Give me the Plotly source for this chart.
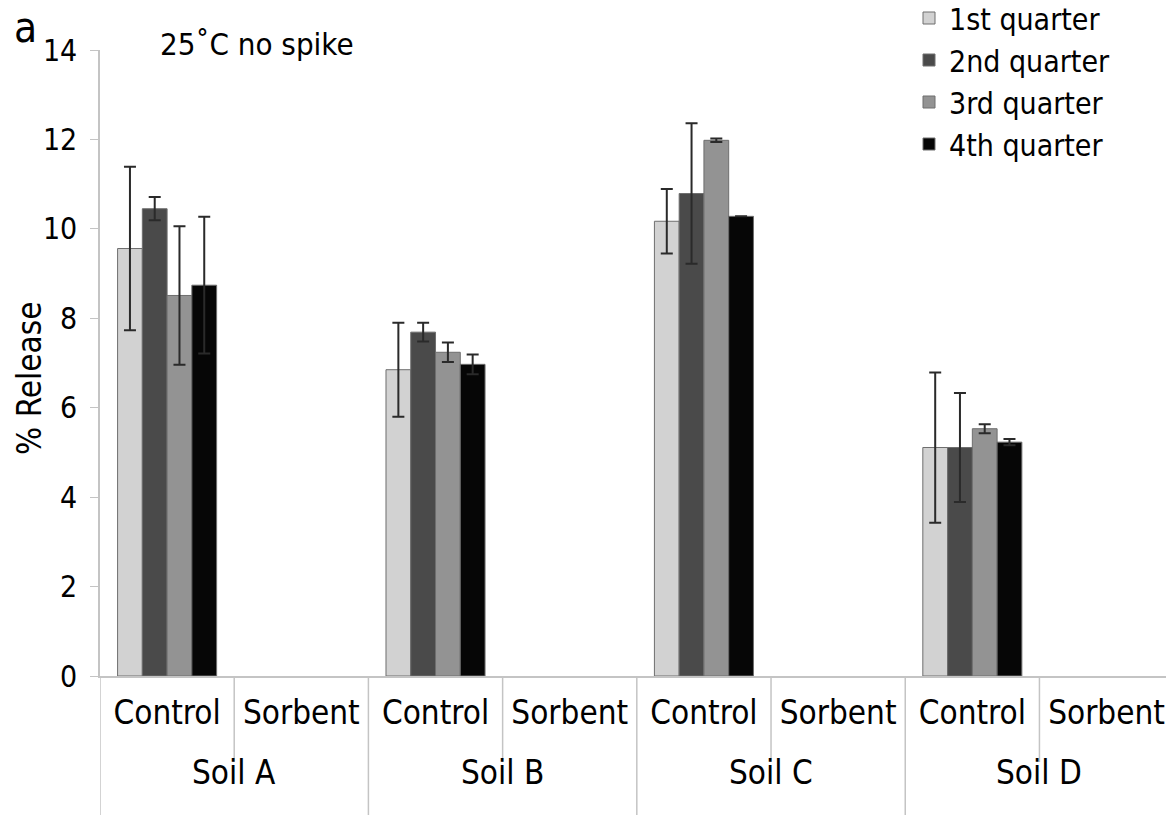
import plotly.graph_objects as go

# Soils and treatments along the x axis
soils = ["Soil A", "Soil B", "Soil C", "Soil D"]
treatments = ["Control", "Sorbent"]

# % release per quarter for the control columns (Soil A..D); sorbent columns are empty
q1 = [9.56, 6.85, 10.17, 5.11]
q2 = [10.45, 7.69, 10.79, 5.11]
q3 = [8.51, 7.24, 11.98, 5.53]
q4 = [8.74, 6.97, 10.28, 5.23]

q1_err = [1.83, 1.05, 0.72, 1.68]
q2_err = [0.26, 0.21, 1.57, 1.22]
q3_err = [1.55, 0.22, 0.04, 0.10]
q4_err = [1.53, 0.22, 0.00, 0.07]

series_names = ["1st quarter", "2nd quarter", "3rd quarter", "4th quarter"]
series_colors = ["#d2d2d2", "#4a4a4a", "#939393", "#060606"]

FONT = "DejaVu Sans Condensed, Liberation Sans Narrow, sans-serif"
AXIS_GRAY = "#c4c4c4"

W, H = 1166, 815
ML, MR, MT, MB = 100, 0, 50, 139
PW, PH = W - ML - MR, H - MT - MB

# one category key per (soil, treatment) column
keys = [f"{s} | {t}" for s in soils for t in treatments]
key_text = [t for _ in soils for t in treatments]


def expand(vals):
    out = []
    for v in vals:
        out.extend([v, None])
    return out


def px_to_paper(px, py):
    return (px - ML) / PW, (H - MB - py) / PH


fig = go.Figure()
for name, color, vals, errs in zip(series_names, series_colors,
                                   [q1, q2, q3, q4],
                                   [q1_err, q2_err, q3_err, q4_err]):
    fig.add_trace(go.Bar(
        name=name,
        x=keys,
        y=expand(vals),
        marker=dict(color=color, line=dict(color="#6e6e6e", width=1)),
        error_y=dict(type="data", array=expand(errs), visible=True,
                     color="#2a2a2a", thickness=2, width=6),
    ))

# separators below the axis: short ones between treatments, full-height ones between soils
inner_y = -86 / PH
outer_y = -(MB + 5) / PH
shapes = []
for k in range(len(keys)):
    boundary = k - 0.5
    y_end = outer_y if k % len(treatments) == 0 else inner_y
    shapes.append(dict(type="line", xref="x", yref="paper",
                       x0=boundary, x1=boundary, y0=0, y1=y_end,
                       line=dict(color=AXIS_GRAY, width=1.5)))

# soil group labels under the treatment labels
soil_label_y = -(772 - (H - MB)) / PH
annotations = []
for i, soil in enumerate(soils):
    center = i * len(treatments) + (len(treatments) - 1) / 2
    annotations.append(dict(text=soil, x=center, y=soil_label_y,
                            xref="x", yref="paper", xanchor="center",
                            yanchor="middle", showarrow=False,
                            font=dict(family=FONT, size=33, color="black")))

lx, ly = px_to_paper(909, -8)
tx, ty = px_to_paper(158, 44)
ax_, ay_ = px_to_paper(12, 1)
yt_x, yt_y = px_to_paper(30, 378)
annotations += [
    dict(text="25˚C no spike", x=tx, y=ty, xref="paper", yref="paper",
         xanchor="left", yanchor="middle", showarrow=False,
         font=dict(family=FONT, size=31, color="black")),
    dict(text="a", x=ax_, y=ay_, xref="paper", yref="paper",
         xanchor="left", yanchor="top", showarrow=False,
         font=dict(family=FONT, size=42, color="black")),
    dict(text="% Release", x=yt_x, y=yt_y, xref="paper", yref="paper",
         xanchor="center", yanchor="middle", textangle=-90, showarrow=False,
         font=dict(family=FONT, size=33, color="black")),
]

fig.update_layout(
    width=W, height=H,
    margin=dict(l=ML, r=MR, t=MT, b=MB, autoexpand=False),
    paper_bgcolor="white", plot_bgcolor="white",
    barmode="group", bargap=0.262, bargroupgap=0,
    font=dict(family=FONT, size=32, color="black"),
    showlegend=True,
    legend=dict(x=lx, y=ly, xanchor="left", yanchor="top",
                font=dict(family=FONT, size=30, color="black"),
                bgcolor="rgba(0,0,0,0)", tracegroupgap=0, itemwidth=30),
    xaxis=dict(
        type="category", automargin=False,
        categoryorder="array", categoryarray=keys,
        tickmode="array", tickvals=keys, ticktext=key_text,
        range=[-0.5, 7.443],
        showline=True, linecolor=AXIS_GRAY, linewidth=1.5,
        ticks="", ticklabelstandoff=7,
        tickangle=0,
        tickfont=dict(family=FONT, size=33, color="black"),
        showgrid=False, zeroline=False,
    ),
    yaxis=dict(
        automargin=False,
        range=[0, 14], dtick=2,
        showline=True, linecolor=AXIS_GRAY, linewidth=1.5,
        ticks="outside", ticklen=8, tickcolor=AXIS_GRAY,
        ticklabelstandoff=7,
        showgrid=False, zeroline=False,
        tickfont=dict(family=FONT, size=30, color="black"),
    ),
    shapes=shapes,
    annotations=annotations,
)

fig.write_html("out.html")
